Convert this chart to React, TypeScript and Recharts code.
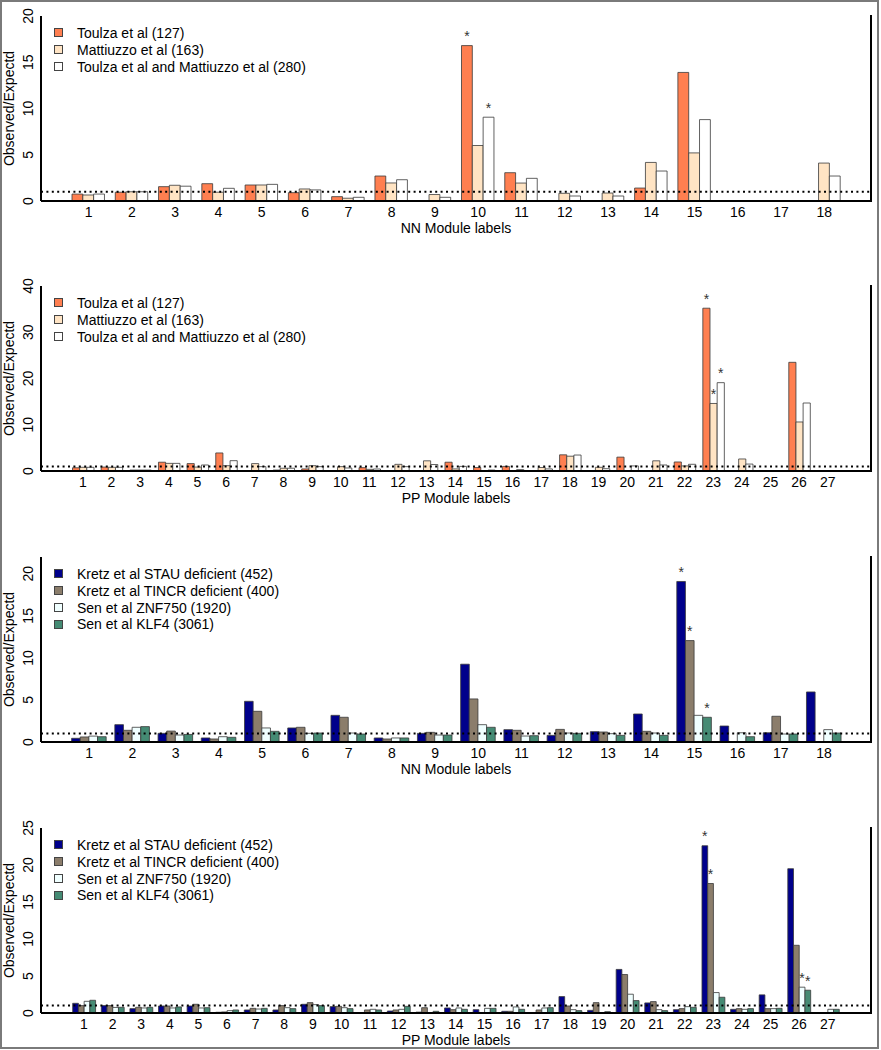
import React from 'react';
import { BarChart, Bar, XAxis, YAxis, ReferenceLine, LabelList, Legend } from 'recharts';

const FONT = '"Liberation Sans", Arial, Helvetica, sans-serif';

// ---------- categories ----------
const nnLabels = ['1','2','3','4','5','6','7','8','9','10','11','12','13','14','15','16','17','18'];
const ppLabels = ['1','2','3','4','5','6','7','8','9','10','11','12','13','14','15','16','17','18','19','20','21','22','23','24','25','26','27'];

// ---------- panel 1: NN, Toulza / Mattiuzzo ----------
const nnToulza = [0.75, 0.95, 1.55, 1.87, 1.73, 0.9, 0.47, 2.7, 0, 16.8, 3.06, 0, 0, 1.4, 13.9, 0, 0, 0];
const nnMattiuzzo = [0.65, 1.0, 1.7, 0.95, 1.73, 1.3, 0.3, 1.95, 0.7, 6.0, 1.94, 0.83, 0.86, 4.17, 5.2, 0, 0, 4.1];
const nnCombined = [0.75, 1.0, 1.6, 1.37, 1.8, 1.2, 0.4, 2.3, 0.4, 9.06, 2.45, 0.54, 0.54, 3.24, 8.8, 0, 0, 2.7];
const nnToulzaStars = ['10'];
const nnMattiuzzoStars: string[] = [];
const nnCombinedStars = ['10'];

// ---------- panel 2: PP, Toulza / Mattiuzzo ----------
const ppToulza = [0.7, 0.85, 0.2, 1.9, 1.6, 3.9, 0, 0.2, 0.45, 0, 0.72, 0, 0, 1.9, 0.75, 1.0, 0, 3.5, 0, 3.0, 0, 1.95, 35.2, 0, 0, 23.5, 0];
const ppMattiuzzo = [0.8, 0.8, 0.2, 1.65, 0.85, 1.15, 1.6, 0.6, 1.15, 0.94, 0.36, 1.44, 2.2, 0.45, 0, 0, 0.75, 3.2, 0.8, 0, 2.2, 1.1, 14.6, 2.6, 0, 10.6, 0];
const ppCombined = [0.8, 0.8, 0.2, 1.65, 1.3, 2.23, 0.94, 0.6, 0.94, 0.65, 0.43, 0.94, 1.4, 1.0, 0.2, 0.3, 0.45, 3.45, 0.5, 1.1, 1.3, 1.45, 19.1, 1.5, 0, 14.7, 0];
const ppToulzaStars = ['23'];
const ppMattiuzzoStars = ['23'];
const ppCombinedStars = ['23'];

// ---------- panel 3: NN, Kretz / Sen ----------
const nnStau = [0.44, 2.06, 1.03, 0.48, 4.84, 1.67, 3.17, 0.48, 1.03, 9.25, 1.47, 0.79, 1.23, 3.33, 19.09, 1.9, 1.1, 5.95];
const nnTincr = [0.6, 1.39, 1.3, 0.36, 3.65, 1.75, 2.94, 0.36, 1.15, 5.12, 1.39, 1.5, 1.19, 1.27, 12.06, 0, 3.06, 0];
const nnZnf750 = [0.7, 1.75, 0.83, 0.63, 1.67, 1.03, 1.07, 0.48, 0.83, 2.06, 0.71, 1.07, 0.99, 1.07, 3.17, 1.1, 0.95, 1.47];
const nnKlf4 = [0.63, 1.83, 0.9, 0.56, 1.27, 1.07, 0.95, 0.48, 0.83, 1.75, 0.75, 1.03, 0.79, 0.79, 2.94, 0.63, 0.95, 1.07];
const nnStauStars = ['15'];
const nnTincrStars = ['15'];
const nnZnf750Stars: string[] = [];
const nnKlf4Stars = ['15'];

// ---------- panel 4: PP, Kretz / Sen ----------
const ppStau = [1.31, 1.0, 0.59, 0.95, 0.95, 0.1, 0.41, 0.41, 1.18, 0.86, 0, 0.27, 0.12, 0.68, 0.45, 0.23, 0, 2.22, 0.36, 5.89, 1.36, 0.45, 22.6, 0.5, 2.45, 19.5, 0];
const ppTincr = [1.0, 1.0, 0.77, 0.95, 1.18, 0.14, 0.63, 1.0, 1.4, 0.9, 0.41, 0.41, 0.72, 0.45, 0, 0.23, 0.41, 0.95, 1.4, 5.2, 1.54, 0.59, 17.5, 0.59, 0.59, 9.15, 0];
const ppZnf750 = [1.58, 0.75, 0.68, 0.68, 0.68, 0.32, 0.54, 0.72, 1.13, 0.72, 0.5, 0.5, 0, 0.68, 0.63, 0.82, 0.68, 0.45, 0, 2.54, 0.45, 0.86, 2.76, 0.5, 0.59, 3.49, 0.5];
const ppKlf4 = [1.72, 0.77, 0.77, 0.82, 0.72, 0.41, 0.63, 0.59, 1.0, 0.59, 0.41, 0.9, 0.23, 0.5, 0.63, 0.5, 0.72, 0.32, 0.18, 1.68, 0.32, 0.77, 2.13, 0.59, 0.63, 3.08, 0.5];
const ppStauStars = ['23'];
const ppTincrStars = ['23'];
const ppZnf750Stars = ['26'];
const ppKlf4Stars = ['26'];

// ---------- tick labels ----------
const ticks20 = [0, 5, 10, 15, 20];
const ticks40 = [0, 10, 20, 30, 40];
const ticks25 = [0, 5, 10, 15, 20, 25];

// ---------- series names / colours ----------
const nameToulza = 'Toulza et al (127)';
const nameMattiuzzo = 'Mattiuzzo et al (163)';
const nameCombined = 'Toulza et al and Mattiuzzo et al (280)';
const nameStau = 'Kretz et al STAU deficient (452)';
const nameTincr = 'Kretz et al TINCR deficient (400)';
const nameZnf750 = 'Sen et al ZNF750 (1920)';
const nameKlf4 = 'Sen et al KLF4 (3061)';

const C_TOULZA = '#FF7F50';
const C_MATT = '#FFE4C4';
const C_COMB = '#FFFFFF';
const C_STAU = '#00008B';
const C_TINCR = '#8B7D6B';
const C_ZNF = '#F0FFFF';
const C_KLF = '#458B74';

type Series = { key: string; name: string; color: string; values: number[]; stars: string[] };

const PLOT_LEFT = 41;
const PLOT_RIGHT = 871;
const PLOT_H = 185;
const M_TOP = 12;
const X_AXIS_H = 40;

const StarLabel = (props: any) => {
  const { x, y, width, value } = props;
  if (!value) return null;
  return (
    <text x={x + width / 2} y={y - 4.5} textAnchor="middle" fontSize={14} fill="#333" fontFamily={FONT}>
      *
    </text>
  );
};

function LegendBox({ series }: { series: Series[] }) {
  return (
    <div style={{ fontFamily: FONT, fontSize: 14, color: '#000' }}>
      {series.map((s) => (
        <div key={s.key} style={{ display: 'flex', alignItems: 'center', height: 16.8, whiteSpace: 'nowrap' }}>
          <span
            style={{
              display: 'inline-block',
              width: 9,
              height: 9,
              background: s.color,
              border: '1px solid #444',
              boxSizing: 'border-box',
              marginRight: 14,
            }}
          />
          <span>{s.name}</span>
        </div>
      ))}
    </div>
  );
}

function Panel(props: {
  top: number;
  labels: string[];
  series: Series[];
  yMax: number;
  yTicks: number[];
  padLeft: number;
  padRight: number;
  title: string;
}) {
  const { top, labels, series, yMax, yTicks, padLeft, padRight, title } = props;
  const data = labels.map((lab, i) => {
    const row: any = { name: lab };
    series.forEach((s) => {
      row[s.key] = s.values[i];
      row[s.key + 'Star'] = s.stars.includes(lab) ? '*' : '';
    });
    return row;
  });
  const band = (PLOT_RIGHT - PLOT_LEFT - padLeft - padRight) / labels.length;
  const barSize = band / (series.length + 1);
  const height = M_TOP + PLOT_H + X_AXIS_H;

  const xTick = (p: any) => (
    <text x={p.x} y={p.y + 15.5} textAnchor="middle" fontSize={14} fill="#000" fontFamily={FONT}>
      {p.payload.value}
    </text>
  );
  const yTick = (p: any) => (
    <text
      x={p.x - 8}
      y={p.y}
      textAnchor="middle"
      fontSize={14}
      fill="#000"
      fontFamily={FONT}
      transform={`rotate(-90, ${p.x - 8}, ${p.y})`}
    >
      {p.payload.value}
    </text>
  );
  const yTitle = (p: any) => {
    const vb = p.viewBox || { x: 11, y: M_TOP, width: 30, height: PLOT_H };
    const bx = vb.x + 3;
    const cy = vb.y + vb.height / 2;
    return (
      <text x={bx} y={cy} textAnchor="middle" fontSize={14} fill="#000" fontFamily={FONT} transform={`rotate(-90, ${bx}, ${cy})`}>
        Observed/Expectd
      </text>
    );
  };

  return (
    <div style={{ position: 'absolute', left: 0, top, width: 881, height }}>
      <BarChart
        width={881}
        height={height}
        data={data}
        margin={{ top: M_TOP, right: 881 - PLOT_RIGHT, bottom: 0, left: PLOT_LEFT - 30 }}
        barGap={0}
        style={{ fontFamily: FONT }}
      >
        <XAxis
          dataKey="name"
          height={X_AXIS_H}
          padding={{ left: padLeft, right: padRight }}
          tickLine={false}
          tickSize={0}
          tickMargin={0}
          interval={0}
          tick={xTick}
          axisLine={{ stroke: '#000', strokeWidth: 2 }}
          label={{ value: title, position: 'insideBottom', offset: 8.5, fontSize: 14, fill: '#000', fontFamily: FONT }}
        />
        <XAxis
          xAxisId="top"
          orientation="top"
          dataKey="name"
          height={0}
          tick={false}
          tickLine={false}
          axisLine={{ stroke: '#000', strokeWidth: 2 }}
        />
        <YAxis
          type="number"
          domain={[0, yMax]}
          ticks={yTicks}
          width={30}
          tickLine={false}
          tickSize={0}
          tickMargin={0}
          interval={0}
          tick={yTick}
          axisLine={{ stroke: '#000', strokeWidth: 2 }}
          allowDataOverflow
          label={yTitle}
        />
        <Legend
          layout="vertical"
          align="center"
          verticalAlign="middle"
          wrapperStyle={{ left: 54, top: M_TOP + 8.6, width: 'auto' }}
          content={() => <LegendBox series={series} />}
        />
        {series.map((s) => (
          <Bar
            key={s.key}
            dataKey={s.key}
            name={s.name}
            fill={s.color}
            stroke="#3a3a3a"
            strokeWidth={0.8}
            barSize={barSize}
            isAnimationActive={false}
          >
            <LabelList dataKey={s.key + 'Star'} content={StarLabel} />
          </Bar>
        ))}
        <ReferenceLine y={1} stroke="#000" strokeWidth={2} strokeDasharray="2 3.4" />
      </BarChart>
      {/* right side of the plot frame */}
      <div
        style={{
          position: 'absolute',
          left: PLOT_RIGHT - 1,
          top: M_TOP - 1,
          width: 2,
          height: PLOT_H + 2,
          background: '#000',
          pointerEvents: 'none',
        }}
      />
    </div>
  );
}

const seriesNN1: Series[] = [
  { key: 'toulza', name: nameToulza, color: C_TOULZA, values: nnToulza, stars: nnToulzaStars },
  { key: 'matt', name: nameMattiuzzo, color: C_MATT, values: nnMattiuzzo, stars: nnMattiuzzoStars },
  { key: 'comb', name: nameCombined, color: C_COMB, values: nnCombined, stars: nnCombinedStars },
];
const seriesPP1: Series[] = [
  { key: 'toulza', name: nameToulza, color: C_TOULZA, values: ppToulza, stars: ppToulzaStars },
  { key: 'matt', name: nameMattiuzzo, color: C_MATT, values: ppMattiuzzo, stars: ppMattiuzzoStars },
  { key: 'comb', name: nameCombined, color: C_COMB, values: ppCombined, stars: ppCombinedStars },
];
const seriesNN2: Series[] = [
  { key: 'stau', name: nameStau, color: C_STAU, values: nnStau, stars: nnStauStars },
  { key: 'tincr', name: nameTincr, color: C_TINCR, values: nnTincr, stars: nnTincrStars },
  { key: 'znf', name: nameZnf750, color: C_ZNF, values: nnZnf750, stars: nnZnf750Stars },
  { key: 'klf', name: nameKlf4, color: C_KLF, values: nnKlf4, stars: nnKlf4Stars },
];
const seriesPP2: Series[] = [
  { key: 'stau', name: nameStau, color: C_STAU, values: ppStau, stars: ppStauStars },
  { key: 'tincr', name: nameTincr, color: C_TINCR, values: ppTincr, stars: ppTincrStars },
  { key: 'znf', name: nameZnf750, color: C_ZNF, values: ppZnf750, stars: ppZnf750Stars },
  { key: 'klf', name: nameKlf4, color: C_KLF, values: ppKlf4, stars: ppKlf4Stars },
];

export default function App() {
  return (
    <div
      style={{
        position: 'absolute',
        left: 0,
        top: 0,
        width: 881,
        height: 1050,
        overflow: 'hidden',
        background: '#fff',
        fontFamily: FONT,
      }}
    >
      <div
        style={{
          position: 'absolute',
          left: 0,
          top: 0,
          width: 879,
          height: 1049,
          border: '2px solid #7a7a7a',
          boxSizing: 'border-box',
        }}
      />
      <Panel top={16 - M_TOP} labels={nnLabels} series={seriesNN1} yMax={20} yTicks={ticks20} padLeft={26} padRight={25} title="NN Module labels" />
      <Panel top={286 - M_TOP} labels={ppLabels} series={seriesPP1} yMax={40} yTicks={ticks40} padLeft={27.5} padRight={28.9} title="PP Module labels" />
      <Panel top={557 - M_TOP} labels={nnLabels} series={seriesNN2} yMax={22} yTicks={ticks20} padLeft={26.6} padRight={25.3} title="NN Module labels" />
      <Panel top={828 - M_TOP} labels={ppLabels} series={seriesPP2} yMax={25} yTicks={ticks25} padLeft={28.7} padRight={29} title="PP Module labels" />
    </div>
  );
}
